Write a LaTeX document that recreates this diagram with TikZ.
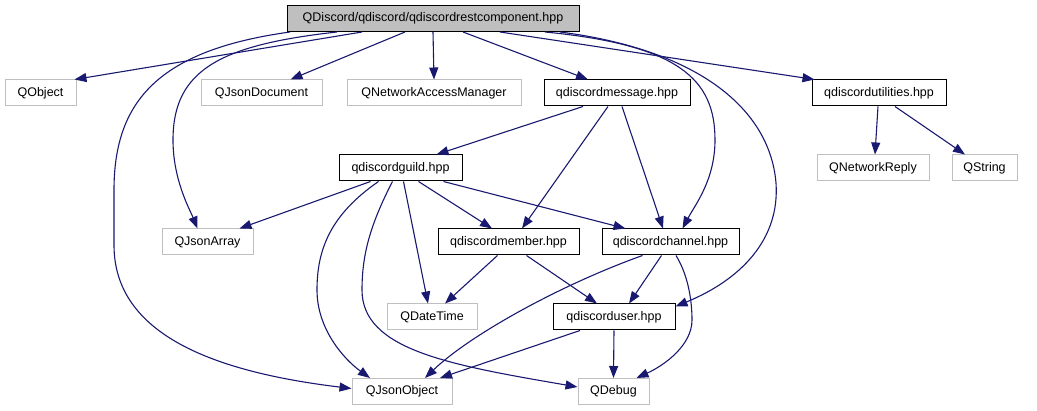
\documentclass[tikz,border=0pt]{standalone}
\usepackage{fontspec}
\setmainfont{Liberation Sans}
\usepackage{tikz}
\usetikzlibrary{arrows.meta,positioning}
\definecolor{dxedge}{RGB}{25,25,112}
\definecolor{dxgray}{RGB}{191,191,191}

\tikzset{
  box/.style={rectangle,line width=1pt,inner sep=0pt,minimum height=26pt,
    font=\fontsize{12.5}{15}\selectfont},
  hdr/.style={box,draw=black,fill=white},
  ext/.style={box,draw=dxgray,fill=white},
  top/.style={box,draw=black,fill=dxgray},
  inc/.style={draw=dxedge,line width=1.1pt,-{Triangle[length=12pt,width=9pt]}}
}

\begin{document}
\begin{tikzpicture}[x=1pt,y=-1pt]
  \useasboundingbox (0,0) rectangle (1037,411);
  % nodes
  \node[top,minimum width=292pt] (root) at (433,18.5) {QDiscord/qdiscord/qdiscordrestcomponent.hpp};
  \node[ext,minimum width=71pt]  (qobject)  at (40.5,93)  {QObject};
  \node[ext,minimum width=121pt] (qjsondoc) at (261.5,93) {QJsonDocument};
  \node[ext,minimum width=174pt] (qnam)     at (434,93)   {QNetworkAccessManager};
  \node[hdr,minimum width=146pt] (msg)      at (617,93)   {qdiscordmessage.hpp};
  \node[hdr,minimum width=134pt] (util)     at (879,93)   {qdiscordutilities.hpp};
  \node[hdr,minimum width=123pt] (guild)    at (400.5,168) {qdiscordguild.hpp};
  \node[ext,minimum width=112pt] (qnreply)  at (873,168)  {QNetworkReply};
  \node[ext,minimum width=65pt]  (qstring)  at (984.5,168) {QString};
  \node[ext,minimum width=91pt]  (qjarray)  at (207.5,242) {QJsonArray};
  \node[hdr,minimum width=141pt] (member)   at (508.5,242) {qdiscordmember.hpp};
  \node[hdr,minimum width=137pt] (channel)  at (670.5,242) {qdiscordchannel.hpp};
  \node[ext,minimum width=90pt]  (qdatetime) at (432,317) {QDateTime};
  \node[hdr,minimum width=122pt] (user)     at (614,317)  {qdiscorduser.hpp};
  \node[ext,minimum width=100pt] (qjobject) at (402,391.5) {QJsonObject};
  \node[ext,minimum width=71pt]  (qdebug)   at (613.5,391.5) {QDebug};

  % root includes
  \draw[inc] ([xshift=-71pt]root.south) -- ([xshift=-2pt]qobject.north east);
  \draw[inc] ([xshift=-28pt]root.south) -- ([xshift=29pt]qjsondoc.north);
  \draw[inc] (root.south) -- (qnam.north);
  \draw[inc] ([xshift=30pt]root.south) -- ([xshift=-29pt]msg.north);
  \draw[inc] ([xshift=67pt]root.south) -- ([xshift=3pt]util.north west);
  \draw[inc] ([xshift=-96pt]root.south) .. controls (220,45) and (173,70) .. (173,140)
    .. controls (173,180) and (190,210) .. ([xshift=-10pt]qjarray.north);
  \draw[inc] ([xshift=-143pt]root.south) .. controls (160,50) and (114,100) .. (114,190)
    -- (114,245) .. controls (114,335) and (215,372) .. ([yshift=3pt]qjobject.west);
  \draw[inc] ([xshift=112pt]root.south) .. controls (680,45) and (715,80) .. (715,140)
    .. controls (715,180) and (695,205) .. ([xshift=12pt]channel.north);
  \draw[inc] ([xshift=127pt]root.south) .. controls (700,50) and (770,110) .. (776,183)
    .. controls (780,240) and (740,280) .. ([yshift=-3pt]user.north east);

  % second level
  \draw[inc] ([xshift=-34pt]msg.south) -- ([xshift=36pt]guild.north);
  \draw[inc] ([xshift=-9pt]msg.south) -- ([xshift=13.5pt]member.north);
  \draw[inc] ([xshift=5pt]msg.south) -- ([xshift=-7.5pt]channel.north);
  \draw[inc] ([xshift=-1pt]util.south) -- ([xshift=2pt]qnreply.north);
  \draw[inc] ([xshift=16pt]util.south) -- ([xshift=-19.5pt]qstring.north);

  % guild
  \draw[inc] ([xshift=-30pt]guild.south) -- ([xshift=32pt]qjarray.north);
  \draw[inc] ([xshift=18pt]guild.south) -- ([xshift=-16.5pt]member.north);
  \draw[inc] ([xshift=43pt]guild.south) -- ([xshift=-45pt]channel.north);
  \draw[inc] ([xshift=3pt]guild.south) -- ([xshift=-4pt]qdatetime.north);
  \draw[inc] ([xshift=-22pt]guild.south) .. controls (330,215) and (317,250) .. (317,290)
    .. controls (317,330) and (345,360) .. ([xshift=-32pt]qjobject.north);
  \draw[inc] ([xshift=-8pt]guild.south) .. controls (370,225) and (362,255) .. (362,290)
    .. controls (362,350) and (450,365) .. ([yshift=4.5pt]qdebug.west);

  % member, channel, user
  \draw[inc] ([xshift=-11pt]member.south) -- ([xshift=13pt]qdatetime.north);
  \draw[inc] ([xshift=18pt]member.south) -- ([xshift=-17pt]user.north);
  \draw[inc] ([xshift=-28pt]channel.south) .. controls (560,285) and (470,335) .. ([xshift=23pt]qjobject.north);
  \draw[inc] ([xshift=-9pt]channel.south) -- ([xshift=15pt]user.north);
  \draw[inc] ([xshift=5.5pt]channel.south) .. controls (688,275) and (692,300) .. (692,320)
    .. controls (692,345) and (665,365) .. ([xshift=23pt]qdebug.north);
  \draw[inc] ([xshift=-34pt]user.south) -- ([xshift=38pt]qjobject.north);
  \draw[inc] (user.south) -- (qdebug.north);
\end{tikzpicture}
\end{document}
